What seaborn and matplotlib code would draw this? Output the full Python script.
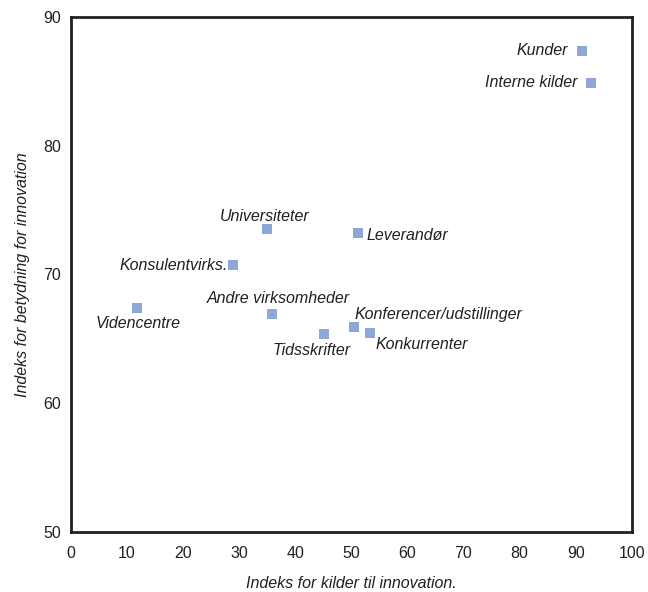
import matplotlib
matplotlib.use("Agg")
import matplotlib.pyplot as plt
import seaborn as sns
import pandas as pd

labels = ["Kunder", "Interne kilder", "Universiteter", "Leverandør", "Konsulentvirks.",
          "Videncentre", "Andre virksomheder", "Tidsskrifter", "Konferencer/udstillinger",
          "Konkurrenter"]
kilder = [91.1, 92.7, 34.9, 51.1, 28.9, 11.7, 35.9, 45.1, 50.4, 53.4]
betydning = [87.4, 84.9, 73.5, 73.2, 70.7, 67.4, 66.9, 65.35, 65.9, 65.45]

# label offsets in pixels (dx, dy) and alignment
offsets = {
    "Kunder": (-14, 0, "right", "center"),
    "Interne kilder": (-13, 0, "right", "center"),
    "Universiteter": (-2, 13, "center", "center"),
    "Leverandør": (9, -2, "left", "center"),
    "Konsulentvirks.": (-5, 0, "right", "center"),
    "Videncentre": (2, -16, "center", "center"),
    "Andre virksomheder": (6, 16, "center", "center"),
    "Tidsskrifter": (-12, -16, "center", "center"),
    "Konferencer/udstillinger": (1, 13, "left", "center"),
    "Konkurrenter": (5, -11, "left", "center"),
}

df = pd.DataFrame({"label": labels, "x": kilder, "y": betydning})

sns.set_style("white")
plt.rcParams["font.family"] = ["Liberation Sans", "DejaVu Sans"]

fs = 11.5
fig = plt.figure(figsize=(6.48, 5.92), dpi=100)
ax = fig.add_axes([71 / 648, 1 - 531.7 / 592, (631.7 - 71) / 648, (531.7 - 17.3) / 592])

sns.scatterplot(data=df, x="x", y="y", ax=ax, marker="s", s=48, color="#8ea6d8",
                linewidth=0, zorder=3)

for lab, xv, yv in zip(labels, kilder, betydning):
    dx, dy, ha, va = offsets[lab]
    ax.annotate(lab, (xv, yv), xytext=(dx, dy), textcoords="offset pixels",
                ha=ha, va=va, fontsize=fs, style="italic", color="#231f20")

ax.set_xlim(0, 100)
ax.set_ylim(50, 90)
ax.set_xticks(range(0, 101, 10))
ax.set_yticks(range(50, 91, 10))
ax.tick_params(axis="both", length=0, labelsize=fs, colors="#231f20")
ax.tick_params(axis="x", pad=10)
ax.tick_params(axis="y", pad=7)
for sp in ax.spines.values():
    sp.set_visible(True)
    sp.set_color("#231f20")
    sp.set_linewidth(2)

ax.set_xlabel("Indeks for kilder til innovation.", fontsize=fs, style="italic",
              color="#231f20", labelpad=11)
ax.set_ylabel("Indeks for betydning for innovation", fontsize=fs, style="italic",
              color="#231f20", labelpad=10)

fig.savefig("out.png", dpi=100)
